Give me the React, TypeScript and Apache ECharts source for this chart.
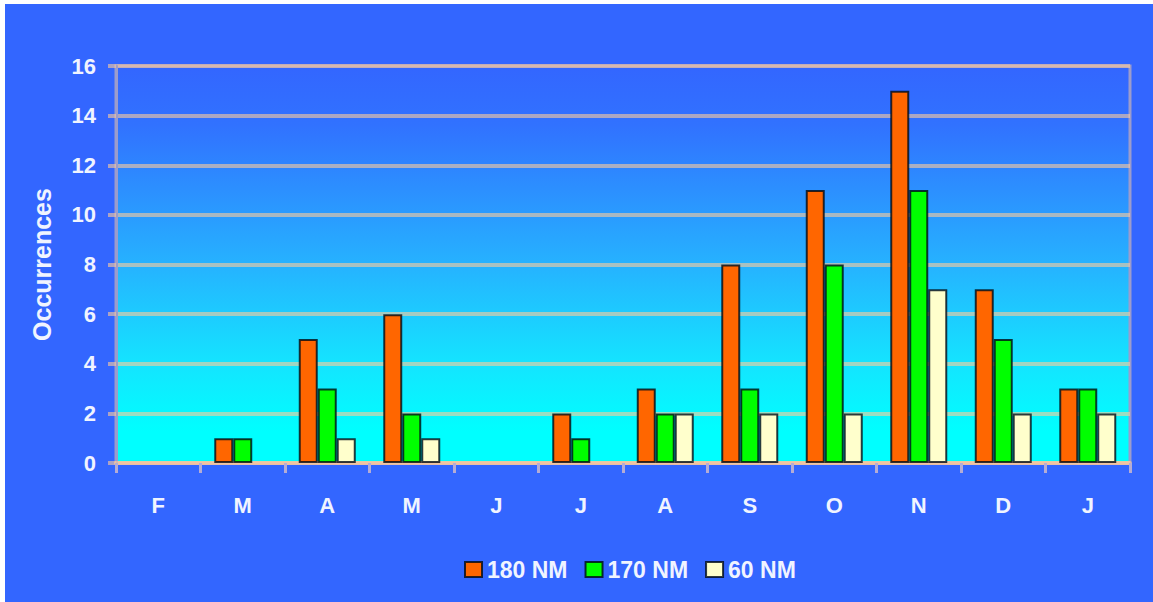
import React, { useEffect, useRef } from "react";
import * as echarts from "echarts";

// Monthly occurrence counts by distance band
const months = ["F", "M", "A", "M", "J", "J", "A", "S", "O", "N", "D", "J"];
const series180 = [0, 1, 5, 6, 0, 2, 3, 8, 11, 15, 7, 3];
const series170 = [0, 1, 3, 2, 0, 1, 2, 3, 8, 11, 5, 3];
const series60 = [0, 0, 1, 1, 0, 0, 2, 2, 2, 7, 2, 2];
const seriesNames = ["180 NM", "170 NM", "60 NM"];
const seriesColors = ["#FF6600", "#00FF00", "#FFFFCC"];

const FONT = "'Liberation Sans', Arial, sans-serif";

export default function App() {
  const ref = useRef<HTMLDivElement>(null);

  useEffect(() => {
    if (!ref.current) return;
    const chart = echarts.init(ref.current, null, { renderer: "svg" });

    const values = [series180, series170, series60];
    const barSeries = values.map((data, i) => ({
      name: seriesNames[i],
      type: "bar",
      // empty months get no outline so nothing shows on the baseline
      data: data.map((v) =>
        v === 0 ? { value: v, itemStyle: { borderWidth: 0, opacity: 0 } } : v
      ),
      barWidth: 19,
      barGap: "0%",
      itemStyle: {
        color: seriesColors[i],
        borderColor: "rgba(0,10,20,0.8)",
        borderWidth: 2,
      },
    }));

    chart.setOption({
      animation: false,
      backgroundColor: "#FFFFFF",
      graphic: [
        {
          type: "rect",
          z: -10,
          silent: true,
          shape: { x: 5, y: 4, width: 1148, height: 598 },
          style: { fill: "#3366FF" },
        },
      ],
      grid: {
        left: 116,
        top: 66,
        right: 23,
        bottom: 139,
        show: true,
        borderColor: "#9C9CCC",
        borderWidth: 3,
        backgroundColor: new echarts.graphic.LinearGradient(0, 0, 0, 1, [
          { offset: 0, color: "#3366FF" },
          { offset: 0.15, color: "#3172FF" },
          { offset: 0.5, color: "#26B2FF" },
          { offset: 0.75, color: "#14E4FF" },
          { offset: 0.92, color: "#00FFFF" },
          { offset: 1, color: "#00FFFF" },
        ]),
      },
      legend: {
        data: seriesNames,
        left: 464,
        top: 558,
        padding: 0,
        icon: "rect",
        itemWidth: 17,
        itemHeight: 15,
        itemGap: 17,
        textStyle: {
          color: "#F0F4FF",
          fontFamily: FONT,
          fontWeight: "bold",
          fontSize: 23,
        },
      },
      xAxis: {
        type: "category",
        data: months,
        boundaryGap: true,
        axisLine: {
          show: true,
          lineStyle: { color: "rgba(255,204,153,0.6)", width: 4 },
        },
        axisTick: {
          show: true,
          length: 10,
          alignWithLabel: false,
          lineStyle: { color: "#B4ACD4", width: 3 },
        },
        axisLabel: {
          color: "#F0F4FF",
          fontFamily: FONT,
          fontWeight: "bold",
          fontSize: 22,
          margin: 31,
        },
      },
      yAxis: {
        type: "value",
        min: 0,
        max: 16,
        interval: 2,
        name: "Occurrences",
        nameLocation: "middle",
        nameRotate: 90,
        nameGap: 62,
        nameTextStyle: {
          color: "#F0F4FF",
          fontFamily: FONT,
          fontWeight: "bold",
          fontSize: 25,
        },
        axisLine: {
          show: true,
          lineStyle: { color: "#9C9CCC", width: 3 },
        },
        axisTick: {
          show: true,
          length: 8,
          lineStyle: { color: "rgba(255,204,153,0.6)", width: 4 },
        },
        axisLabel: {
          color: "#F0F4FF",
          fontFamily: FONT,
          fontWeight: "bold",
          fontSize: 22,
          margin: 20,
        },
        splitLine: {
          show: true,
          lineStyle: { color: "rgba(255,204,153,0.6)", width: 4 },
        },
      },
      series: barSeries,
    });

    return () => chart.dispose();
  }, []);

  return (
    <div
      ref={ref}
      style={{ position: "fixed", left: 0, top: 0, width: 1153, height: 602 }}
    />
  );
}
